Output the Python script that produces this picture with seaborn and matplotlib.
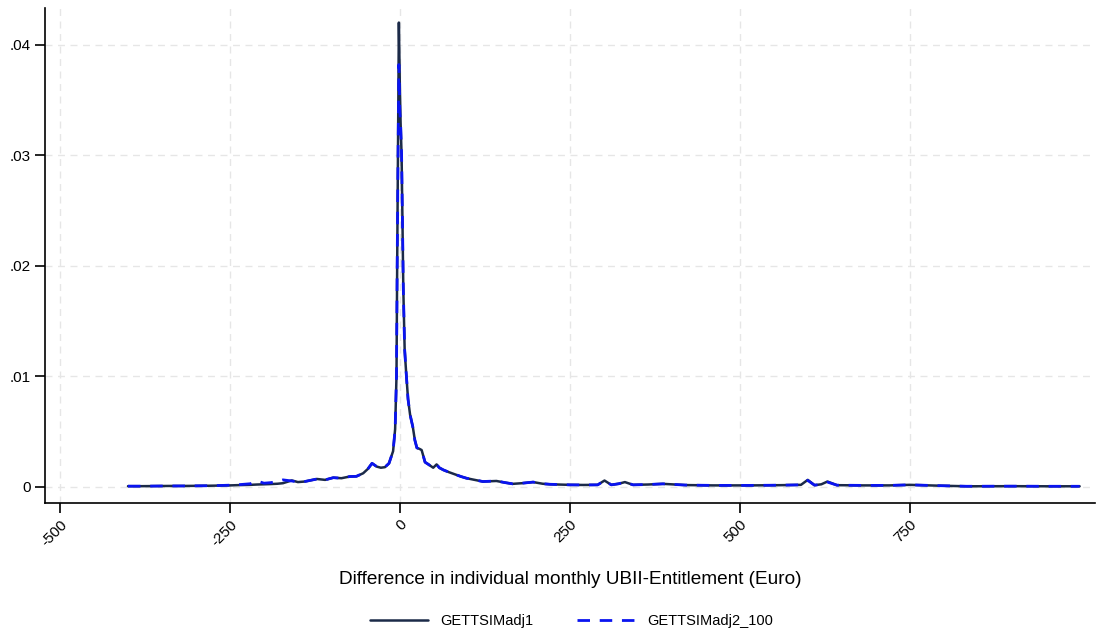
import matplotlib
matplotlib.use("Agg")
import matplotlib.pyplot as plt
import seaborn as sns


# =====================================
# DATA
# =====================================

diff_euro = [
    -400, -380, -360, -340, -320, -300, -280, -260, -250, -240, -220, -210,
    -200, -190, -180, -172, -159, -150, -140, -122, -110, -98, -86, -74,
    -64, -54, -47, -41, -34, -28, -22, -16, -10, -7, -5, -4, -3, -1.5,
    0, 1, 2.5, 4, 5, 7, 9, 12, 15, 19, 22, 25, 29, 32, 37, 42, 49, 54,
    58, 64, 72, 81, 90, 98, 110, 122, 142, 155, 166, 180, 196, 210, 221,
    250, 270, 291, 301, 311, 322, 331, 343, 365, 387, 420, 460, 515, 560,
    590, 600, 610, 620, 629, 643, 680, 720, 750, 790, 834, 900, 950, 1000
]

density_adj1 = [
    0.00003, 0.00003, 0.00004, 0.00005, 0.00005, 0.00006, 0.00007, 0.00009,
    0.00010, 0.00012, 0.00015, 0.00018, 0.00020, 0.00022, 0.00025, 0.00030,
    0.00055, 0.00040, 0.00045, 0.00068, 0.00060, 0.00080, 0.00075, 0.00090,
    0.00092, 0.00120, 0.00160, 0.00210, 0.00180, 0.00170, 0.00175, 0.00210,
    0.00320, 0.00520, 0.01000, 0.02000, 0.02870, 0.04200, 0.03600, 0.03300,
    0.03000, 0.02300, 0.01800, 0.01240, 0.01050, 0.00790, 0.00650, 0.00540,
    0.00420, 0.00350, 0.00340, 0.00330, 0.00220, 0.00200, 0.00170, 0.00200,
    0.00170, 0.00150, 0.00130, 0.00110, 0.00090, 0.00075, 0.00060, 0.00045,
    0.00050, 0.00035, 0.00024, 0.00030, 0.00040, 0.00025, 0.00020, 0.00015,
    0.00014, 0.00015, 0.00054, 0.00015, 0.00025, 0.00040, 0.00015, 0.00018,
    0.00024, 0.00013, 0.00010, 0.00010, 0.00012, 0.00015, 0.00060, 0.00012,
    0.00020, 0.00045, 0.00012, 0.00010, 0.00010, 0.00015, 0.00008, 0.00002,
    0.00003, 0.00002, 0.00002
]

density_adj2 = [
    0.00003, 0.00003, 0.00004, 0.00005, 0.00005, 0.00006, 0.00007, 0.00010,
    0.00012, 0.00015, 0.00025, 0.00050, 0.00030, 0.00035, 0.00045, 0.00060,
    0.00050, 0.00040, 0.00045, 0.00068, 0.00060, 0.00080, 0.00075, 0.00090,
    0.00092, 0.00120, 0.00160, 0.00210, 0.00180, 0.00170, 0.00175, 0.00210,
    0.00320, 0.00520, 0.01000, 0.02000, 0.02800, 0.03820, 0.03380, 0.03300,
    0.03000, 0.02300, 0.01800, 0.01240, 0.01050, 0.00790, 0.00650, 0.00540,
    0.00420, 0.00350, 0.00340, 0.00330, 0.00220, 0.00200, 0.00170, 0.00200,
    0.00170, 0.00150, 0.00130, 0.00110, 0.00090, 0.00075, 0.00060, 0.00045,
    0.00050, 0.00035, 0.00024, 0.00030, 0.00040, 0.00025, 0.00020, 0.00015,
    0.00014, 0.00015, 0.00054, 0.00015, 0.00025, 0.00040, 0.00015, 0.00018,
    0.00024, 0.00013, 0.00010, 0.00010, 0.00012, 0.00015, 0.00055, 0.00012,
    0.00020, 0.00040, 0.00012, 0.00010, 0.00010, 0.00015, 0.00008, 0.00002,
    0.00003, 0.00002, 0.00002
]

series_names = ["GETTSIMadj1", "GETTSIMadj2_100"]

x_ticks = [-500, -250, 0, 250, 500, 750]
y_ticks = [0, 0.01, 0.02, 0.03, 0.04]
y_tick_labels = ["0", ".01", ".02", ".03", ".04"]


# =====================================
# STYLE
# =====================================

sns.set_style("white")
plt.rcParams["font.family"] = ["Liberation Sans", "DejaVu Sans"]
plt.rcParams["text.color"] = "black"
plt.rcParams["axes.labelcolor"] = "black"
plt.rcParams["xtick.color"] = "black"
plt.rcParams["ytick.color"] = "black"

fig = plt.figure(figsize=(10.99, 6.32), dpi=100)
ax = fig.add_axes([0.041, 0.204, 0.955, 0.783])


# =====================================
# PLOT
# =====================================

sns.lineplot(
    x=diff_euro,
    y=density_adj1,
    color="#1b2a48",
    linewidth=1.8,
    label=series_names[0],
    ax=ax
)

sns.lineplot(
    x=diff_euro,
    y=density_adj2,
    color="#0a14f0",
    linewidth=2.0,
    linestyle=(0, (4.5, 3.5)),
    label=series_names[1],
    ax=ax
)

ax.set_xlim(-522, 1022)
ax.set_ylim(-0.0015, 0.0433)

ax.set_xticks(x_ticks)
ax.set_xticklabels(
    [str(t) for t in x_ticks],
    rotation=45,
    ha="right",
    rotation_mode="anchor",
    fontsize=11
)
ax.set_yticks(y_ticks)
ax.set_yticklabels(y_tick_labels, fontsize=11)

ax.tick_params(
    axis="both",
    direction="out",
    length=7,
    width=1.2,
    color="black",
    labelcolor="black",
    bottom=True,
    left=True
)

ax.grid(True, color="#e6e6e6", linestyle=(0, (5, 4)), linewidth=1.0)

sns.despine(ax=ax)
for side in ["left", "bottom"]:
    ax.spines[side].set_color("black")
    ax.spines[side].set_linewidth(1.2)

ax.set_xlabel(
    "Difference in individual monthly UBII-Entitlement (Euro)",
    fontsize=13.7,
    labelpad=16,
    color="black"
)
ax.set_ylabel("")

handles, labels = ax.get_legend_handles_labels()
ax.get_legend().remove()

fig.legend(
    handles,
    labels,
    loc="center",
    bbox_to_anchor=(0.52, 0.017),
    ncol=2,
    frameon=False,
    fontsize=10.5,
    handlelength=4,
    columnspacing=3,
    labelcolor="black"
)

plt.savefig("out.png", dpi=100)
plt.close()
